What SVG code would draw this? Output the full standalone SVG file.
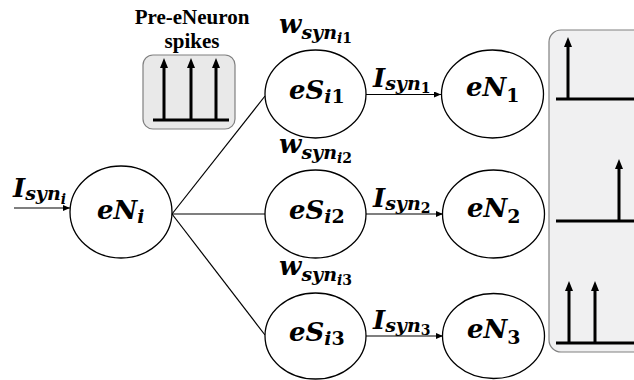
<svg xmlns="http://www.w3.org/2000/svg" width="634" height="380" viewBox="0 0 634 380">
<style>
.node{fill:#fff;stroke:#000;stroke-width:1.3}
.m{font-weight:bold;font-style:italic;font-size:26px;fill:#000}
.s{font-size:19px}
.ss{font-size:14px}
.up{font-style:normal}
.cap{font-weight:bold;font-size:21px;fill:#000;text-anchor:middle}
.conn{stroke:#000;stroke-width:1.2;fill:none}
.spk{stroke:#000;stroke-width:3;fill:none}
.box{stroke:#808080;stroke-width:1.2}
</style>
<defs>
<marker id="ah" markerWidth="7" markerHeight="6" refX="7" refY="3" orient="auto" markerUnits="userSpaceOnUse"><path d="M0,0 L7,3 L0,6 z" fill="#000"/></marker>
</defs>
<rect x="0" y="0" width="634" height="380" fill="#fff"/>

<g id="pre-spikes">
<text class="cap" font-family="Liberation Serif, Times New Roman, serif" x="192" y="24">Pre-eNeuron</text>
<text class="cap" font-family="Liberation Serif, Times New Roman, serif" x="192" y="48">spikes</text>
<rect class="box" x="143" y="55" width="92" height="74" rx="10" fill="#e9e9e9"/>
<line class="spk" x1="153" y1="120" x2="229" y2="120"/>
<path d="M164,120 V66 M191,120 V66 M216,120 V66" class="spk"/>
<path d="M164,58 l-4,10 h8 z M191,58 l-4,10 h8 z M216,58 l-4,10 h8 z" fill="#000"/>
</g>

<g id="post-spikes">
<rect class="box" x="549" y="30" width="100" height="322" rx="12" fill="#f0f0f1"/>
<path class="spk" d="M556,99 H634 M568,99 V45 M556,221 H634 M619,221 V167 M556,343 H634 M569,343 V289 M595,343 V289"/>
<path d="M568,37 l-4,10 h8 z M619,159 l-4,10 h8 z M569,281 l-4,10 h8 z M595,281 l-4,10 h8 z" fill="#000"/>
</g>

<g id="connectors" font-family="DejaVu Serif, serif">
<line class="conn" x1="14" y1="208" x2="70" y2="208" marker-end="url(#ah)"/>
<line class="conn" x1="172" y1="214" x2="265" y2="96"/>
<line class="conn" x1="172" y1="214" x2="265" y2="214"/>
<line class="conn" x1="172" y1="214" x2="265" y2="335"/>
<line class="conn" x1="366" y1="94.5" x2="441" y2="94.5" marker-end="url(#ah)"/>
<line class="conn" x1="366" y1="214" x2="443" y2="214" marker-end="url(#ah)"/>
<line class="conn" x1="366" y1="336" x2="443" y2="336" marker-end="url(#ah)"/>
<text class="m" x="13" y="197">I<tspan class="s" dy="3">syn</tspan><tspan class="ss" dy="4">i</tspan></text>
<text class="m" x="373" y="87">I<tspan class="s" dy="3">syn</tspan><tspan class="ss up" dy="3">1</tspan></text>
<text class="m" x="373" y="207">I<tspan class="s" dy="3">syn</tspan><tspan class="ss up" dy="3">2</tspan></text>
<text class="m" x="373" y="329">I<tspan class="s" dy="3">syn</tspan><tspan class="ss up" dy="3">3</tspan></text>
</g>

<g id="eNi" font-family="DejaVu Serif, serif">
<ellipse class="node" cx="121" cy="212" rx="51" ry="46"/>
<text class="m" x="97" y="219">eN<tspan class="s" dy="4">i</tspan></text>
</g>

<g id="eSi1" font-family="DejaVu Serif, serif">
<ellipse class="node" cx="315.5" cy="94" rx="50.5" ry="44"/>
<text class="m" x="289" y="99">eS<tspan class="s" dy="4">i<tspan class="up">1</tspan></tspan></text>
<text class="m" x="279" y="33">w<tspan class="s" dy="6">syn</tspan><tspan class="ss" dy="4">i<tspan class="up">1</tspan></tspan></text>
</g>
<g id="eSi2" font-family="DejaVu Serif, serif">
<ellipse class="node" cx="315.5" cy="214" rx="50.5" ry="44"/>
<text class="m" x="289" y="219">eS<tspan class="s" dy="4">i<tspan class="up">2</tspan></tspan></text>
<text class="m" x="279" y="153">w<tspan class="s" dy="6">syn</tspan><tspan class="ss" dy="4">i<tspan class="up">2</tspan></tspan></text>
</g>
<g id="eSi3" font-family="DejaVu Serif, serif">
<ellipse class="node" cx="315.5" cy="336" rx="50.5" ry="43"/>
<text class="m" x="289" y="341">eS<tspan class="s" dy="4">i<tspan class="up">3</tspan></tspan></text>
<text class="m" x="279" y="275">w<tspan class="s" dy="6">syn</tspan><tspan class="ss" dy="4">i<tspan class="up">3</tspan></tspan></text>
</g>

<g id="eN1" font-family="DejaVu Serif, serif">
<ellipse class="node" cx="492.5" cy="94" rx="51" ry="44"/>
<text class="m" x="466" y="96">eN<tspan class="s up" dy="6">1</tspan></text>
</g>
<g id="eN2" font-family="DejaVu Serif, serif">
<ellipse class="node" cx="493.5" cy="214" rx="51" ry="44"/>
<text class="m" x="467" y="217">eN<tspan class="s up" dy="6">2</tspan></text>
</g>
<g id="eN3" font-family="DejaVu Serif, serif">
<ellipse class="node" cx="493.5" cy="336" rx="51" ry="42.5"/>
<text class="m" x="467" y="338">eN<tspan class="s up" dy="6">3</tspan></text>
</g>
</svg>
